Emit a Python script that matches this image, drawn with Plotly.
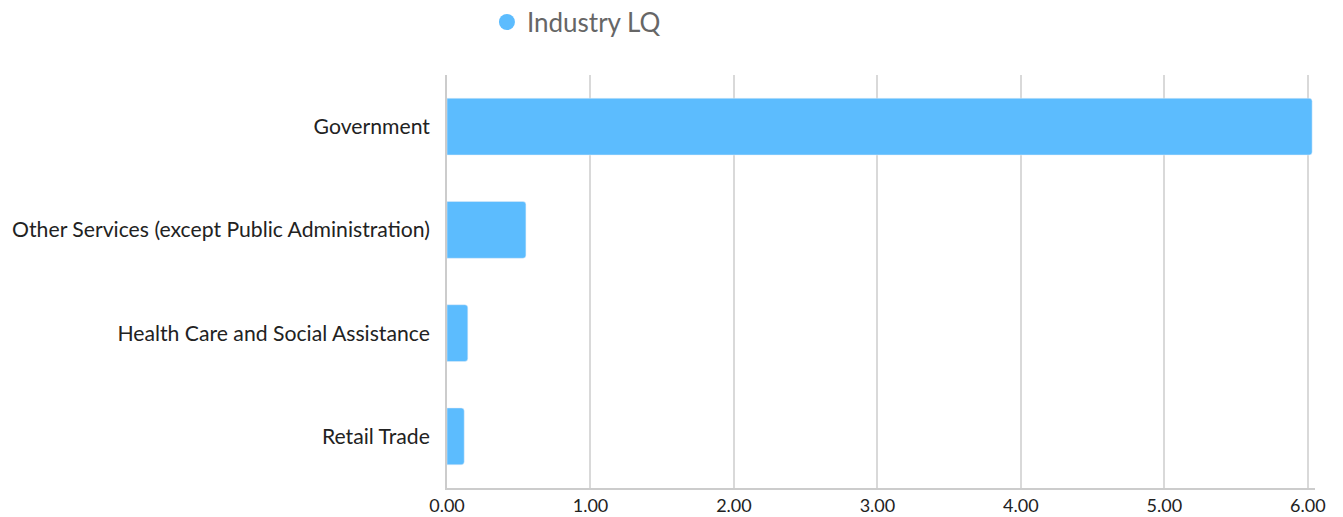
import plotly.graph_objects as go

categories = ["Government", "Other Services (except Public Administration)",
              "Health Care and Social Assistance", "Retail Trade"]
values = [6.03, 0.55, 0.145, 0.12]
tick_vals = [0, 1, 2, 3, 4, 5, 6]
tick_text = ["0.00", "1.00", "2.00", "3.00", "4.00", "5.00", "6.00"]
series_name = "Industry LQ"
color = "#5cbcfe"

fig = go.Figure()
fig.add_trace(go.Bar(
    y=categories, x=values, orientation="h",
    marker=dict(color=color, cornerradius=3),
    showlegend=False, name=series_name,
))
fig.add_trace(go.Scatter(
    x=[None], y=[None], mode="markers", name=series_name,
    marker=dict(color=color, size=20, symbol="circle"),
))
# page body has an 8px default margin, so the figure is sized to fit the window
fig.update_layout(
    width=1335, height=509,
    margin=dict(l=439, r=28, t=67, b=29, autoexpand=False),
    paper_bgcolor="white", plot_bgcolor="white",
    font=dict(family="Lato", size=21.2, color="#222"),
    bargap=0.45,
    legend=dict(orientation="h", x=0.046, xanchor="left", y=1.185, yanchor="top",
                font=dict(size=26, color="#666")),
    xaxis=dict(range=[0, 6.05], tickvals=tick_vals, ticktext=tick_text,
               showgrid=True, gridcolor="#d9d9d9", gridwidth=1.5,
               showline=True, linecolor="#cccccc", linewidth=2,
               zeroline=False, tickfont=dict(size=18, color="#222"), ticks="",
               automargin=False),
    yaxis=dict(autorange="reversed", showline=True, linecolor="#cccccc", linewidth=2,
               ticks="", ticksuffix="  ", tickfont=dict(size=21.2, color="#222"),
               automargin=False),
)
fig.write_html("out.html")
